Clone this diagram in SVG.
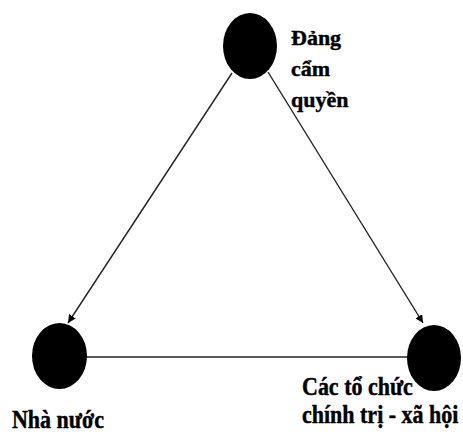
<svg xmlns="http://www.w3.org/2000/svg" width="463" height="432" viewBox="0 0 463 432">
<style>
.node{fill:#000}
.edge{stroke:#222;stroke-width:1.4;fill:none}
.lbl{font-family:"Liberation Serif","Times New Roman",serif;font-weight:bold;font-size:22px;fill:#000;stroke:#000;stroke-width:0.4}
</style>
<defs>
<marker id="ah" viewBox="0 0 10 10" refX="10" refY="5" markerWidth="8" markerHeight="8" markerUnits="userSpaceOnUse" orient="auto">
<path d="M0,0 L10,5 L0,10 z" fill="#000"/>
</marker>
</defs>
<rect width="463" height="432" fill="#fff"/>
<g id="connectors">
<line class="edge" x1="232" y1="73" x2="68" y2="323" marker-end="url(#ah)"/>
<line class="edge" x1="268" y1="72" x2="423" y2="323" marker-end="url(#ah)"/>
<line class="edge" x1="86" y1="357" x2="408" y2="357"/>
</g>
<g id="dang">
<ellipse class="node" cx="250" cy="46" rx="27" ry="33"/>
<text class="lbl"><tspan x="291" y="45">Đảng</tspan><tspan x="291" y="76">cẩm</tspan><tspan x="291" y="107">quyền</tspan></text>
</g>
<g id="nhanuoc">
<ellipse class="node" cx="59.5" cy="356" rx="27.5" ry="33"/>
<text class="lbl" transform="translate(12,428) scale(1,1.15)">Nhà nước</text>
</g>
<g id="tochuc">
<ellipse class="node" cx="434" cy="358" rx="27" ry="33"/>
<text class="lbl" transform="translate(302,395) scale(1,1.12)">Các tổ chức</text>
<text class="lbl" transform="translate(302,423) scale(1,1.12)">chính trị - xã hội</text>
</g>
</svg>
